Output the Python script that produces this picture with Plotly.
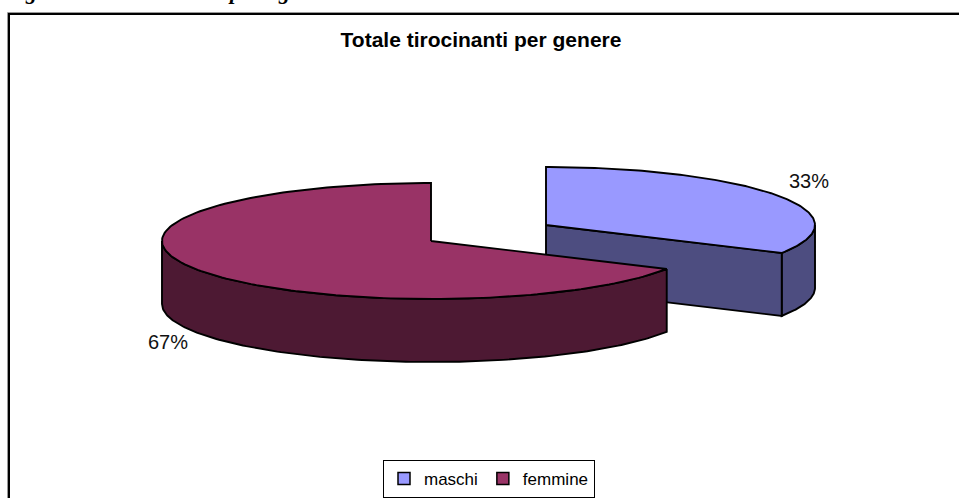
import numpy as np
import plotly.graph_objects as go

categories = ["maschi", "femmine"]
values = [33, 67]
top_colors = ["#9999FF", "#993366"]
side_colors = ["#4D4D80", "#4D1933"]
title_text = "Totale tirocinanti per genere"
# only the tails of these caption letters survive at the cropped top edge
caption_fragments = ["g", "p", "g"]

W, H = 959, 498
RX, RY, DEPTH = 269, 58, 63
CENTERS = [(546, 225), (431, 241)]
LABEL_POS = [(809, 183), (168, 344)]
CAPTION_X = [31, 234, 284]
INK = "#000000"
LW = 1.9

shares = np.array(values, dtype=float) / sum(values)
edges = np.concatenate([[0], np.cumsum(shares)]) * 2 * np.pi


def rim(c, a0, a1, n=160, dz=0):
    t = np.linspace(a0, a1, n)
    return c[0] + RX * np.sin(t), c[1] - RY * np.cos(t) + dz


fig = go.Figure()


def poly(x, y, color, name=None):
    fig.add_trace(go.Scatter(x=list(x), y=list(y), mode="lines", fill="toself", fillcolor=color,
                             line=dict(color=INK, width=LW), showlegend=False, hoverinfo="skip"))


for i, c in enumerate(CENTERS):
    a0, a1 = edges[i], edges[i + 1]
    # outer wall: only the part facing the viewer
    w0, w1 = max(a0, np.pi / 2), min(a1, 3 * np.pi / 2)
    if w1 > w0:
        xt, yt = rim(c, w0, w1)
        xb, yb = rim(c, w1, w0, dz=DEPTH)
        poly(np.r_[xt, xb, xt[0]], np.r_[yt, yb, yt[0]], side_colors[i])
    # cut wall at the end of the first slice, facing the viewer
    if i == 0:
        xe, ye = rim(c, a1, a1, n=1)
        poly([c[0], xe[0], xe[0], c[0], c[0]],
             [c[1], ye[0], ye[0] + DEPTH, c[1] + DEPTH, c[1]], side_colors[i])
    # top surface
    xt, yt = rim(c, a0, a1)
    poly(np.r_[c[0], xt, c[0]], np.r_[c[1], yt, c[1]], top_colors[i])

# legend entries
for name, col in zip(categories, top_colors):
    fig.add_trace(go.Scatter(x=[None], y=[None], mode="markers", name=name,
                             marker=dict(symbol="square", size=12, color=col,
                                         line=dict(color=INK, width=1.5))))

# percentage labels
fig.add_trace(go.Scatter(x=[p[0] for p in LABEL_POS], y=[p[1] for p in LABEL_POS], mode="text",
                         text=[f"{v}%" for v in values], showlegend=False, hoverinfo="skip",
                         textposition="middle center",
                         textfont=dict(family="Liberation Sans", size=20, color="#111111")))

# chart frame, running off the page on the right and bottom
fig.add_shape(type="rect", x0=7.5, y0=12.5, x1=W + 20, y1=H + 20, line=dict(color="#999999", width=1), layer="above")
fig.add_shape(type="rect", x0=9, y0=14, x1=W + 20, y1=H + 20, line=dict(color="#000000", width=2), layer="above")

# cropped caption above the frame (the reference shows only the letter tails)
for ch, cx in zip(caption_fragments, CAPTION_X):
    fig.add_annotation(text=f"<b><i>{ch}</i></b>", x=cx, xref="x", y=1, yref="paper", yanchor="bottom",
                       yshift=-5, showarrow=False, borderpad=0,
                       font=dict(family="Liberation Serif", size=22, color="#000000"))

fig.update_layout(
    width=W, height=H, margin=dict(l=0, r=0, t=0, b=0, autoexpand=False),
    paper_bgcolor="white", plot_bgcolor="white",
    xaxis=dict(range=[0, W], visible=False, fixedrange=True),
    yaxis=dict(range=[H, 0], visible=False, fixedrange=True),
    title=dict(text=f"<b>{title_text}</b>", x=481 / W, xanchor="center", y=1 - 40 / H, yanchor="middle",
               font=dict(family="Liberation Sans", size=21, color="#000000")),
    legend=dict(orientation="h", x=383 / W, y=1 - 460 / H, xanchor="left", yanchor="top",
                bgcolor="white", bordercolor="#000000", borderwidth=1, itemwidth=30,
                font=dict(family="Liberation Sans", size=17, color="#000000")),
)

fig.write_html("out.html", post_script="document.body.style.margin='0';document.body.style.overflow='hidden';",
               config={"displayModeBar": False})
